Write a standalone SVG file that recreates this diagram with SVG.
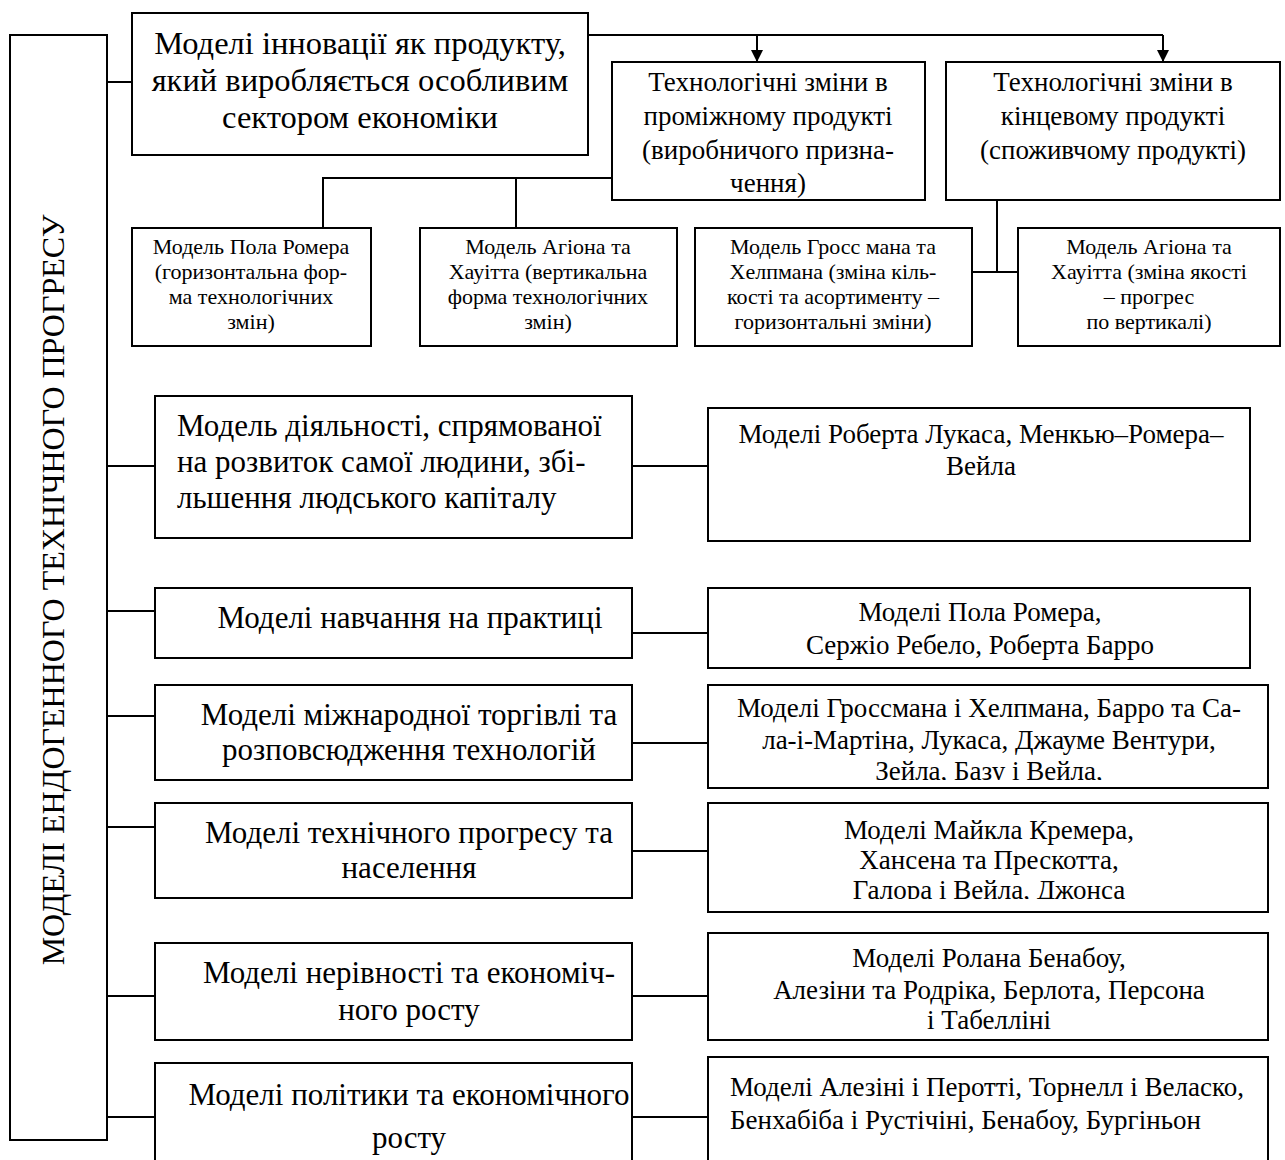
<svg xmlns="http://www.w3.org/2000/svg" width="1285" height="1160" viewBox="0 0 1285 1160">
<style>
.b{fill:#fff;stroke:#000;stroke-width:2}
.c{fill:none;stroke:#000;stroke-width:2}
text{font-family:"Liberation Serif","Times New Roman",serif;fill:#000}
.t32{font-size:32.5px;text-anchor:middle}
.m31{font-size:31px;text-anchor:middle}
.l31{font-size:31px}
.t27{font-size:27px;text-anchor:middle}
.t22{font-size:22px;text-anchor:middle}
.r27{font-size:27px;text-anchor:middle}
.rl27{font-size:27px}
</style>
<defs>
<marker id="ar" viewBox="0 0 10 10" refX="10" refY="5" markerWidth="12" markerHeight="14" markerUnits="userSpaceOnUse" orient="auto">
<path d="M0,0 L10,5 L0,10 z" fill="#000"/>
</marker>
<clipPath id="clipC"><rect x="708" y="685" width="560" height="95"/></clipPath>
<clipPath id="clipD"><rect x="708" y="803" width="560" height="96"/></clipPath>
</defs>
<g id="connectors">
<path class="c" d="M107,82 H132"/>
<path class="c" d="M588,35 H1163"/>
<path class="c" d="M757,35 V62" marker-end="url(#ar)"/>
<path class="c" d="M1163,35 V62" marker-end="url(#ar)"/>
<path class="c" d="M612,178 H323 V228"/>
<path class="c" d="M516,178 V228"/>
<path class="c" d="M997,200 V272"/>
<path class="c" d="M972,272 H1018"/>
<path class="c" d="M107,466 H155"/>
<path class="c" d="M632,466 H708"/>
<path class="c" d="M107,611 H155"/>
<path class="c" d="M632,633 H708"/>
<path class="c" d="M107,716 H155"/>
<path class="c" d="M632,743 H708"/>
<path class="c" d="M107,827 H155"/>
<path class="c" d="M632,851 H708"/>
<path class="c" d="M107,996 H155"/>
<path class="c" d="M632,996 H708"/>
<path class="c" d="M107,1117 H155"/>
<path class="c" d="M632,1117 H708"/>
</g>
<g id="root">
<rect class="b" x="10" y="35" width="97" height="1105"/>
<text transform="translate(64,590) rotate(-90)" style="font-size:32px;text-anchor:middle">МОДЕЛІ ЕНДОГЕННОГО ТЕХНІЧНОГО ПРОГРЕСУ</text>
</g>
<g id="n-innov">
<rect class="b" x="132" y="13" width="456" height="142"/>
<text class="t32" x="360" y="54">Моделі інновації як продукту,</text>
<text class="t32" x="360" y="91">який виробляється особливим</text>
<text class="t32" x="360" y="128">сектором економіки</text>
</g>
<g id="n-interm">
<rect class="b" x="612" y="62" width="313" height="138"/>
<text class="t27" x="768" y="91">Технологічні зміни в</text>
<text class="t27" x="768" y="125">проміжному продукті</text>
<text class="t27" x="768" y="159">(виробничого призна-</text>
<text class="t27" x="768" y="192">чення)</text>
</g>
<g id="n-final">
<rect class="b" x="946" y="62" width="334" height="138"/>
<text class="t27" x="1113" y="91">Технологічні зміни в</text>
<text class="t27" x="1113" y="125">кінцевому продукті</text>
<text class="t27" x="1113" y="159">(споживчому продукті)</text>
</g>
<g id="n-romer">
<rect class="b" x="132" y="228" width="239" height="118"/>
<text class="t22" x="251" y="254">Модель Пола Ромера</text>
<text class="t22" x="251" y="279">(горизонтальна фор-</text>
<text class="t22" x="251" y="304">ма технологічних</text>
<text class="t22" x="251" y="329">змін)</text>
</g>
<g id="n-aghion1">
<rect class="b" x="420" y="228" width="257" height="118"/>
<text class="t22" x="548" y="254">Модель Агіона та</text>
<text class="t22" x="548" y="279">Хауітта (вертикальна</text>
<text class="t22" x="548" y="304">форма технологічних</text>
<text class="t22" x="548" y="329">змін)</text>
</g>
<g id="n-grossman">
<rect class="b" x="695" y="228" width="277" height="118"/>
<text class="t22" x="833" y="254">Модель Гросс мана та</text>
<text class="t22" x="833" y="279">Хелпмана (зміна кіль-</text>
<text class="t22" x="833" y="304">кості та асортименту –</text>
<text class="t22" x="833" y="329">горизонтальні зміни)</text>
</g>
<g id="n-aghion2">
<rect class="b" x="1018" y="228" width="262" height="118"/>
<text class="t22" x="1149" y="254">Модель Агіона та</text>
<text class="t22" x="1149" y="279">Хауітта (зміна якості</text>
<text class="t22" x="1149" y="304">– прогрес</text>
<text class="t22" x="1149" y="329">по вертикалі)</text>
</g>
<g id="n-human">
<rect class="b" x="155" y="396" width="477" height="142"/>
<text class="l31" x="177" y="436">Модель діяльності, спрямованої</text>
<text class="l31" x="177" y="472">на розвиток самої людини, збі-</text>
<text class="l31" x="177" y="508">льшення людського капіталу</text>
</g>
<g id="n-lucas">
<rect class="b" x="708" y="408" width="542" height="133"/>
<text class="r27" x="981" y="443">Моделі Роберта Лукаса, Менкью–Ромера–</text>
<text class="r27" x="981" y="475">Вейла</text>
</g>
<g id="n-learning">
<rect class="b" x="155" y="588" width="477" height="70"/>
<text class="m31" x="410" y="628">Моделі навчання на практиці</text>
</g>
<g id="n-romer2">
<rect class="b" x="708" y="588" width="542" height="80"/>
<text class="r27" x="980" y="621">Моделі Пола Ромера,</text>
<text class="r27" x="980" y="654">Сержіо Ребело, Роберта Барро</text>
</g>
<g id="n-trade">
<rect class="b" x="155" y="685" width="477" height="95"/>
<text class="m31" x="409" y="725">Моделі міжнародної торгівлі та</text>
<text class="m31" x="409" y="760">розповсюдження технологій</text>
</g>
<g id="n-trade-r">
<rect class="b" x="708" y="685" width="560" height="103"/>
<g clip-path="url(#clipC)">
<text class="r27" x="989" y="717">Моделі Гроссмана і Хелпмана, Барро та Са-</text>
<text class="r27" x="989" y="749">ла-і-Мартіна, Лукаса, Джауме Вентури,</text>
<text class="r27" x="989" y="780">Зейла, Базу і Вейла,</text>
</g>
</g>
<g id="n-pop">
<rect class="b" x="155" y="803" width="477" height="95"/>
<text class="m31" x="409" y="843">Моделі технічного прогресу та</text>
<text class="m31" x="409" y="878">населення</text>
</g>
<g id="n-pop-r">
<rect class="b" x="708" y="803" width="560" height="109"/>
<g clip-path="url(#clipD)">
<text class="r27" x="989" y="839">Моделі Майкла Кремера,</text>
<text class="r27" x="989" y="869">Хансена та Прескотта,</text>
<text class="r27" x="989" y="899">Галора і Вейла, Джонса</text>
</g>
</g>
<g id="n-ineq">
<rect class="b" x="155" y="943" width="477" height="97"/>
<text class="m31" x="409" y="983">Моделі нерівності та економіч-</text>
<text class="m31" x="409" y="1020">ного росту</text>
</g>
<g id="n-ineq-r">
<rect class="b" x="708" y="933" width="560" height="107"/>
<text class="r27" x="989" y="967">Моделі Ролана Бенабоу,</text>
<text class="r27" x="989" y="999">Алезіни та Родріка, Берлота, Персона</text>
<text class="r27" x="989" y="1029">і Табелліні</text>
</g>
<g id="n-pol">
<rect class="b" x="155" y="1063" width="477" height="110"/>
<text class="m31" x="409" y="1105">Моделі політики та економічного</text>
<text class="m31" x="409" y="1148">росту</text>
</g>
<g id="n-pol-r">
<rect class="b" x="708" y="1057" width="560" height="116"/>
<text class="rl27" x="730" y="1096">Моделі Алезіні і Перотті, Торнелл і Веласко,</text>
<text class="rl27" x="730" y="1129">Бенхабіба і Рустічіні, Бенабоу, Бургіньон</text>
</g>
</svg>
